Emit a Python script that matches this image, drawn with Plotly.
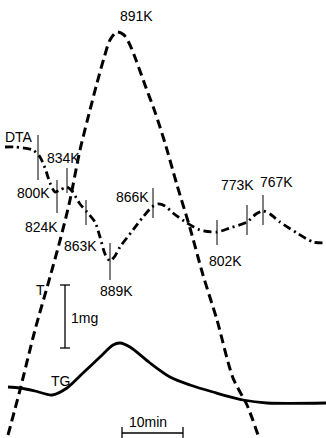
import plotly.graph_objects as go

W, H = 326, 438

# Temperature curve T (dashed)
t_x = [8, 20, 35, 50, 62, 70, 80, 90, 97, 104, 110, 117, 124, 130, 136, 145, 155, 165, 177, 190, 203, 217, 233, 247, 258]
t_y = [435, 390, 330, 277, 233, 200, 150, 110, 83, 58, 40, 32, 35, 45, 60, 85, 112, 143, 185, 228, 275, 320, 378, 405, 435]

# DTA curve (dash-dot)
dta_x = [5, 15, 33, 40, 45, 50, 55, 60, 67, 72, 80, 87, 95, 100, 105, 110, 115, 120, 133, 143, 152, 158, 165, 173, 187, 200, 217, 230, 247, 256, 263, 270, 280, 297, 313, 326]
dta_y = [147, 147, 150, 157, 168, 183, 192, 190, 187, 191, 204, 212, 222, 237, 254, 261, 256, 247, 230, 217, 207, 204, 206, 213, 223, 230, 232, 228, 222, 214, 211, 214, 222, 233, 242, 243]

# TG curve (solid)
tg_x = [8, 20, 35, 52, 67, 83, 100, 113, 120, 130, 150, 170, 190, 213, 243, 267, 326]
tg_y = [387, 388, 391, 395, 388, 373, 357, 345, 343, 347, 363, 377, 385, 392, 400, 403, 403]

# Temperature markers on DTA curve
tick_x = [38, 57, 67, 86, 110, 153, 217, 247, 263]
tick_y0 = [135, 180, 168, 200, 243, 188, 220, 205, 195]
tick_y1 = [180, 213, 193, 225, 280, 218, 245, 235, 225]

# Labels
label_text = ["891K", "DTA", "834K", "800K", "824K", "863K", "889K", "866K", "802K", "773K", "767K", "T", "1mg", "TG", "10min"]
label_x = [136, 19, 63, 33, 41, 80, 116, 132, 225, 237, 276, 40, 84, 60, 148]
label_y = [16, 137, 158, 193, 227, 246, 291, 197, 261, 185, 182, 290, 318, 381, 422]

fig = go.Figure()
fig.add_trace(go.Scatter(x=t_x, y=t_y, mode="lines", line=dict(color="black", width=3, dash="9px,5px", shape="spline", smoothing=0.8), hoverinfo="skip"))
fig.add_trace(go.Scatter(x=dta_x, y=dta_y, mode="lines", line=dict(color="black", width=2.8, dash="8px,4px,2px,4px", shape="spline", smoothing=0.7), hoverinfo="skip"))
fig.add_trace(go.Scatter(x=tg_x, y=tg_y, mode="lines", line=dict(color="black", width=2.8, shape="spline", smoothing=0.8), hoverinfo="skip"))

for x, a, b in zip(tick_x, tick_y0, tick_y1):
    fig.add_shape(type="line", x0=x, x1=x, y0=a, y1=b, line=dict(color="black", width=1))

# 1mg scale bar
fig.add_shape(type="line", x0=65, x1=65, y0=285, y1=348, line=dict(color="black", width=1.3))
fig.add_shape(type="line", x0=60, x1=70, y0=285, y1=285, line=dict(color="black", width=1.3))
fig.add_shape(type="line", x0=60, x1=70, y0=348, y1=348, line=dict(color="black", width=1.3))
# 10min scale bar
fig.add_shape(type="line", x0=122, x1=183, y0=433, y1=433, line=dict(color="black", width=1.3))
fig.add_shape(type="line", x0=122, x1=122, y0=427, y1=438, line=dict(color="black", width=1.3))
fig.add_shape(type="line", x0=183, x1=183, y0=427, y1=438, line=dict(color="black", width=1.3))

for t, x, y in zip(label_text, label_x, label_y):
    fig.add_annotation(x=x, y=y, text=t, showarrow=False, xanchor="center", yanchor="middle",
                       font=dict(family="Liberation Sans", size=14, color="black"))

fig.update_layout(width=W, height=H, margin=dict(l=0, r=0, t=0, b=0), showlegend=False,
                  plot_bgcolor="white", paper_bgcolor="white",
                  xaxis=dict(range=[0, W], visible=False, fixedrange=True),
                  yaxis=dict(range=[H, 0], visible=False, fixedrange=True))
fig.write_html("out.html", config={"displayModeBar": False},
               post_script="document.body.style.margin='0';document.body.style.overflow='hidden';")
